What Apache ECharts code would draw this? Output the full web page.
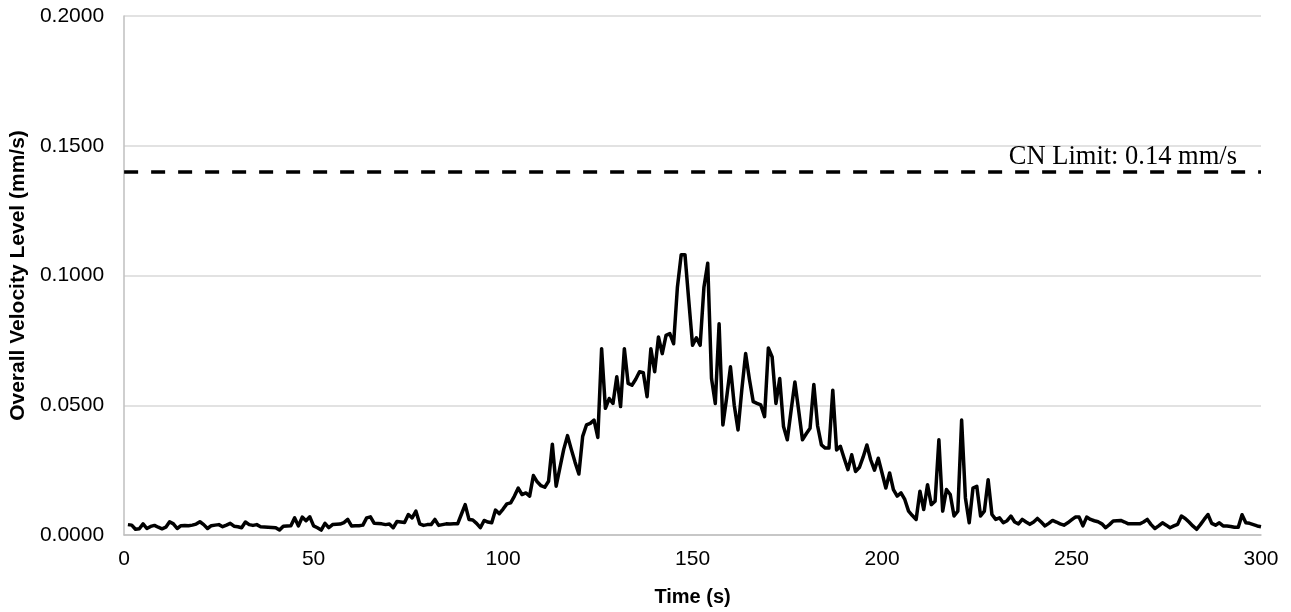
<!DOCTYPE html>
<html>
<head>
<meta charset="utf-8">
<script src="https://cdn.jsdelivr.net/npm/echarts@6/dist/echarts.min.js"></script>
<style>
html,body{margin:0;padding:0;background:#fff;}
#chart{width:1291px;height:612px;}
</style>
</head>
<body>
<div id="chart"></div>
<script>
// ---- data ----
const startTime = 1; // first sample time (s), one sample per second
const velocity = [
  0.0040, 0.0038, 0.0022, 0.0024, 0.0043, 0.0025, 0.0033, 0.0037, 0.0030, 0.0024,
  0.0030, 0.0051, 0.0043, 0.0025, 0.0036, 0.0037, 0.0036, 0.0038, 0.0042, 0.0051,
  0.0040, 0.0025, 0.0036, 0.0038, 0.0040, 0.0032, 0.0038, 0.0045, 0.0034, 0.0032,
  0.0028, 0.0050, 0.0040, 0.0037, 0.0040, 0.0032, 0.0031, 0.0030, 0.0029, 0.0028,
  0.0019, 0.0034, 0.0035, 0.0036, 0.0066, 0.0035, 0.0069, 0.0055, 0.0070, 0.0035,
  0.0028, 0.0019, 0.0045, 0.0028, 0.0040, 0.0041, 0.0042, 0.0048, 0.0060, 0.0035,
  0.0036, 0.0036, 0.0038, 0.0066, 0.0070, 0.0045, 0.0044, 0.0043, 0.0040, 0.0042,
  0.0028, 0.0052, 0.0050, 0.0048, 0.0079, 0.0066, 0.0092, 0.0043, 0.0037, 0.0040,
  0.0040, 0.0060, 0.0037, 0.0040, 0.0043, 0.0042, 0.0043, 0.0043, 0.0080, 0.0117,
  0.0060, 0.0058, 0.0045, 0.0028, 0.0056, 0.0050, 0.0047, 0.0096, 0.0082, 0.0100,
  0.0120, 0.0124, 0.0150, 0.0181, 0.0156, 0.0162, 0.0150, 0.0229, 0.0205, 0.0190,
  0.0184, 0.0207, 0.0350, 0.0188, 0.0260, 0.0330, 0.0383, 0.0330, 0.0280, 0.0235,
  0.0380, 0.0424, 0.0430, 0.0443, 0.0376, 0.0718, 0.0488, 0.0526, 0.0507, 0.0610,
  0.0495, 0.0718, 0.0584, 0.0577, 0.0600, 0.0629, 0.0625, 0.0533, 0.0718, 0.0629,
  0.0763, 0.0699, 0.0769, 0.0776, 0.0737, 0.0955, 0.1080, 0.1080, 0.0903, 0.0731,
  0.0760, 0.0731, 0.0955, 0.1047, 0.0603, 0.0507, 0.0814, 0.0424, 0.0530, 0.0648,
  0.0500, 0.0405, 0.0560, 0.0699, 0.0600, 0.0514, 0.0507, 0.0501, 0.0456, 0.0721,
  0.0686, 0.0507, 0.0603, 0.0418, 0.0367, 0.0480, 0.0590, 0.0480, 0.0367, 0.0390,
  0.0411, 0.0580, 0.0420, 0.0347, 0.0335, 0.0335, 0.0558, 0.0328, 0.0342, 0.0296,
  0.0252, 0.0309, 0.0245, 0.0260, 0.0300, 0.0347, 0.0290, 0.0250, 0.0296, 0.0239,
  0.0181, 0.0239, 0.0175, 0.0150, 0.0162, 0.0137, 0.0092, 0.0075, 0.0060, 0.0169,
  0.0098, 0.0194, 0.0117, 0.0130, 0.0367, 0.0092, 0.0175, 0.0156, 0.0073, 0.0092,
  0.0443, 0.0143, 0.0047, 0.0181, 0.0188, 0.0073, 0.0092, 0.0213, 0.0079, 0.0060,
  0.0066, 0.0047, 0.0055, 0.0073, 0.0050, 0.0043, 0.0060, 0.0050, 0.0041, 0.0050,
  0.0064, 0.0050, 0.0035, 0.0045, 0.0056, 0.0050, 0.0043, 0.0038, 0.0047, 0.0058,
  0.0069, 0.0069, 0.0035, 0.0069, 0.0060, 0.0055, 0.0051, 0.0043, 0.0028, 0.0040,
  0.0054, 0.0055, 0.0056, 0.0050, 0.0043, 0.0043, 0.0043, 0.0043, 0.0050, 0.0060,
  0.0040, 0.0025, 0.0035, 0.0047, 0.0038, 0.0028, 0.0035, 0.0041, 0.0073, 0.0064,
  0.0050, 0.0035, 0.0022, 0.0040, 0.0060, 0.0079, 0.0045, 0.0038, 0.0047, 0.0035,
  0.0035, 0.0033, 0.0030, 0.0030, 0.0078, 0.0047, 0.0045, 0.0040, 0.0035, 0.0032
];
const limitValue = 0.14;
const limitLabel = 'CN Limit: 0.14 mm/s';
const xTicks = [0, 50, 100, 150, 200, 250, 300];
const yTicks = [0, 0.05, 0.10, 0.15, 0.20];
const xTitle = 'Time (s)';
const yTitle = 'Overall Velocity Level (mm/s)';

// ---- chart ----
const seriesData = velocity.map((v, i) => [startTime + i, v]);
const chart = echarts.init(document.getElementById('chart'), null, {renderer: 'canvas'});
chart.setOption({
  animation: false,
  backgroundColor: '#ffffff',
  grid: {left: 123, right: 30, top: 16, bottom: 75, containLabel: false},
  xAxis: {
    type: 'value',
    min: xTicks[0], max: xTicks[xTicks.length - 1], interval: xTicks[1] - xTicks[0],
    name: xTitle, nameLocation: 'middle', nameGap: 52,
    nameTextStyle: {fontFamily: 'Liberation Sans, Arial, sans-serif', fontWeight: 'bold', fontSize: 20, color: '#000'},
    axisLine: {show: true, lineStyle: {color: '#bfbfbf', width: 1.5}},
    axisTick: {show: false},
    splitLine: {show: false},
    axisLabel: {fontFamily: 'Liberation Sans, Arial, sans-serif', fontSize: 21, color: '#000', margin: 14}
  },
  yAxis: {
    type: 'value',
    min: yTicks[0], max: yTicks[yTicks.length - 1], interval: yTicks[1] - yTicks[0],
    name: yTitle, nameLocation: 'middle', nameGap: 92, nameRotate: 90,
    nameTextStyle: {fontFamily: 'Liberation Sans, Arial, sans-serif', fontWeight: 'bold', fontSize: 21, color: '#000'},
    axisLine: {show: true, lineStyle: {color: '#bfbfbf', width: 1.5}},
    axisTick: {show: false},
    splitLine: {show: true, lineStyle: {color: '#d9d9d9', width: 1.5}},
    axisLabel: {fontFamily: 'Liberation Sans, Arial, sans-serif', fontSize: 21, color: '#000', margin: 20,
      formatter: v => v.toFixed(4)}
  },
  series: [{
    type: 'line',
    data: seriesData,
    showSymbol: false,
    symbol: 'none',
    lineStyle: {color: '#000', width: 3.5, join: 'round'},
    z: 3,
    markLine: {
      silent: true,
      symbol: ['none', 'none'],
      lineStyle: {color: '#000', width: 3.5, type: [14, 13]},
      label: {
        show: true,
        position: 'insideEndTop',
        formatter: limitLabel,
        fontFamily: 'Liberation Serif, Times New Roman, serif',
        fontSize: 26.5,
        color: '#000',
        distance: [24, 1]
      },
      data: [{yAxis: limitValue}]
    }
  }]
});
</script>
</body>
</html>
